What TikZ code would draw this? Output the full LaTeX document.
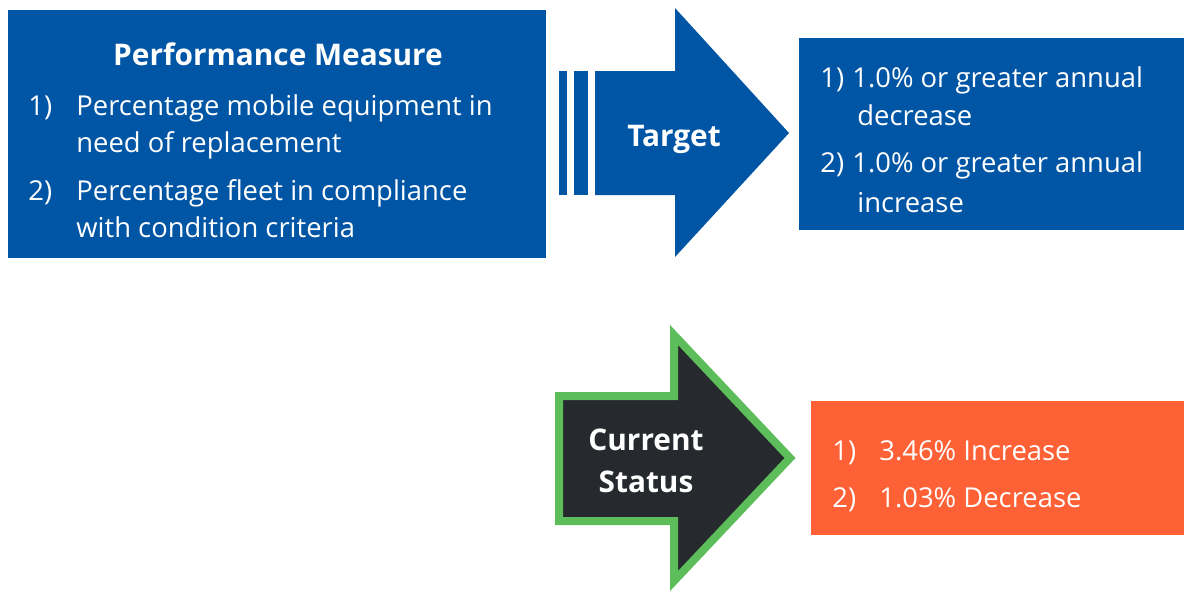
\documentclass[tikz,border=0pt]{standalone}
\usepackage{fontspec}
\setmainfont{Open Sans}
\usetikzlibrary{positioning}

\definecolor{pmblue}{RGB}{1,85,165}
\definecolor{statusorange}{RGB}{255,97,54}
\definecolor{statusdark}{RGB}{38,41,45}
\definecolor{statusgreen}{RGB}{92,189,90}

\tikzset{
  panel/.style={fill=#1, draw=none, inner sep=0pt, anchor=north west},
  listtext/.style={text=white, inner sep=0pt, anchor=base west,
    font=\fontsize{13.7}{18.5}\selectfont},
  headtext/.style={text=white, inner sep=0pt, anchor=base, align=center,
    font=\bfseries\fontsize{14.9}{21}\selectfont},
}

\begin{document}
\begin{tikzpicture}[x=0.5pt,y=-0.5pt]
  \useasboundingbox (0,0) rectangle (1188,591);

  % the three boxes
  \node[panel=pmblue, minimum width=269pt, minimum height=124pt] (measure) at (8,10) {};
  \node[panel=pmblue, minimum width=192.5pt, minimum height=96pt] (target) at (799,38) {};
  \node[panel=statusorange, minimum width=186.5pt, minimum height=67pt] (status) at (811,401) {};

  % striped arrow
  \fill[pmblue] (559,71) rectangle (567,195);
  \fill[pmblue] (574,71) rectangle (588,195);
  \fill[pmblue] (595,71) -- (675,71) -- (675,8) -- (789,133) -- (675,257)
    -- (675,195) -- (595,195) -- cycle;

  % outlined arrow
  \filldraw[fill=statusdark, draw=statusgreen, line width=4pt, miter limit=10]
    (559,396) -- (674,396) -- (674,335) -- (790,458) -- (674,581)
    -- (674,521) -- (559,521) -- cycle;

  % labels
  \node[headtext] (measurehead) at (278,65) {Performance Measure};
  \node[headtext] (targethead) at (674,146) {Target};
  \node[headtext] (statushead) at (646,492) {Current\\Status};

  \node[listtext] (m1) at (28,115) {1)};
  \node[listtext] (m1a) at (76,115) {Percentage mobile equipment in};
  \node[listtext] (m1b) at (76,152) {need of replacement};
  \node[listtext] (m2) at (28,200) {2)};
  \node[listtext] (m2a) at (76,200) {Percentage fleet in compliance};
  \node[listtext] (m2b) at (76,237) {with condition criteria};

  \node[listtext] (t1) at (820,87) {1)};
  \node[listtext] (t1a) at (852,87) {1.0\% or greater annual};
  \node[listtext] (t1b) at (857,125) {decrease};
  \node[listtext] (t2) at (820,172) {2)};
  \node[listtext] (t2a) at (852,172) {1.0\% or greater annual};
  \node[listtext] (t2b) at (857,212) {increase};

  \node[listtext] (s1) at (832,460) {1)};
  \node[listtext] (s1a) at (879,460) {3.46\% Increase};
  \node[listtext] (s2) at (832,507) {2)};
  \node[listtext] (s2a) at (879,507) {1.03\% Decrease};
\end{tikzpicture}
\end{document}
